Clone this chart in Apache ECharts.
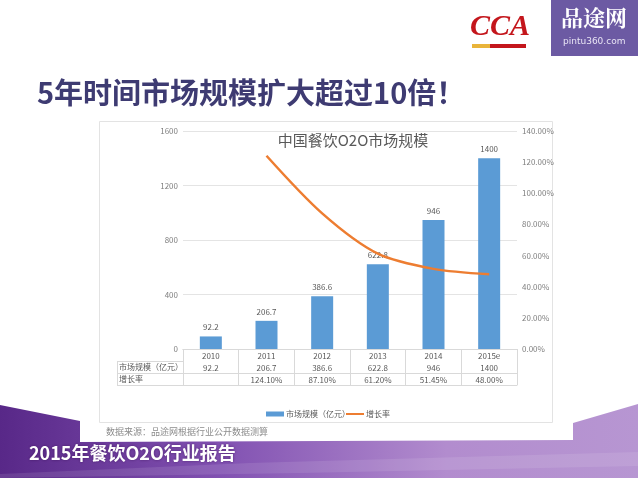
<!DOCTYPE html>
<html>
<head>
<meta charset="utf-8">
<script src="https://cdn.jsdelivr.net/npm/echarts@6/dist/echarts.min.js"></script>
<style>
html,body{margin:0;padding:0;background:#fff;}
#main{width:638px;height:478px;}
</style>
</head>
<body>
<div id="main"></div>
<script>
// ---- data ----
const categories = ['2010', '2011', '2012', '2013', '2014', '2015e'];
const marketSize = [92.2, 206.7, 386.6, 622.8, 946, 1400];
const growthRate = [null, 124.10, 87.10, 61.20, 51.45, 48.00];
const leftTicks = { min: 0, max: 1600, interval: 400 };
const rightTicks = { min: 0, max: 140, interval: 20 };
const seriesNames = ['市场规模（亿元）', '增长率'];
const rowHeaders = ['市场规模（亿元）', '增长率'];

const FONT = '"Noto Sans CJK SC", "Noto Sans", sans-serif';
const gridL = 183, gridR = 517, gridT = 131, gridB = 349;
const rowH = 12;
const lineCol = '#d9d9d9';
const txtCol = '#595959';

const chart = echarts.init(document.getElementById('main'));

function rowAxis(data, offset, showLabel) {
  return {
    type: 'category', gridIndex: 0, position: 'bottom', offset: offset,
    data: data,
    axisLine: { show: true, lineStyle: { color: lineCol, width: 1 } },
    axisTick: { show: false },
    axisLabel: { show: showLabel, interval: 0, color: txtCol, fontSize: 8, fontFamily: FONT, margin: 3 },
    splitLine: { show: false }
  };
}

const headerGraphics = [];
rowHeaders.forEach((h, i) => {
  headerGraphics.push({
    type: 'text', z: 6, silent: true, left: 119, top: gridB + rowH * (i + 1) + 2,
    style: { text: h, fill: txtCol, fontSize: 8, fontFamily: FONT }
  });
});
for (let i = 1; i <= rowHeaders.length + 1; i++) {
  const y = gridB + rowH * i + 0.5;
  headerGraphics.push({ type: 'line', z: 5, silent: true, shape: { x1: 117, y1: y, x2: gridL, y2: y }, style: { stroke: lineCol, lineWidth: 1 } });
}
headerGraphics.push({ type: 'line', z: 5, silent: true, shape: { x1: 117.5, y1: gridB + rowH, x2: 117.5, y2: gridB + rowH * 3 + 1 }, style: { stroke: lineCol, lineWidth: 1 } });

const legendText = { color: txtCol, fontSize: 8, fontFamily: FONT, padding: [0, 0, 0, -3] };

const option = {
  animation: false,
  textStyle: { fontFamily: FONT },
  title: {
    text: '中国餐饮O2O市场规模',
    left: 348, textAlign: 'center', top: 128,
    textStyle: { color: '#595959', fontSize: 15, fontWeight: 'normal', fontFamily: FONT }
  },
  grid: { left: gridL, right: 638 - gridR, top: gridT, bottom: 478 - gridB, containLabel: false },
  legend: [
    {
      data: [{ name: seriesNames[0], icon: 'rect' }],
      left: 261, top: 405, itemWidth: 18, itemHeight: 5, textStyle: legendText
    },
    {
      data: [{ name: seriesNames[1], icon: 'rect' }],
      left: 341, top: 405, itemWidth: 18, itemHeight: 2, textStyle: legendText
    }
  ],
  xAxis: [
    {
      type: 'category', data: categories, position: 'bottom',
      axisLine: { show: true, lineStyle: { color: lineCol } },
      axisTick: { show: true, interval: 0, length: 36, alignWithLabel: false, lineStyle: { color: lineCol } },
      axisLabel: { interval: 0, color: txtCol, fontSize: 8, fontFamily: FONT, margin: 3 }
    },
    rowAxis(marketSize.map(v => String(v)), rowH, true),
    rowAxis(growthRate.map(v => v == null ? '' : v.toFixed(2) + '%'), rowH * 2, true),
    rowAxis(categories.map(() => ''), rowH * 3, false)
  ],
  yAxis: [
    {
      type: 'value', min: leftTicks.min, max: leftTicks.max, interval: leftTicks.interval,
      axisLine: { show: false }, axisTick: { show: false },
      axisLabel: { color: '#7f7f7f', fontSize: 8, fontFamily: FONT, margin: 5, formatter: v => String(v) },
      splitLine: { lineStyle: { color: '#e4e4e4' } }
    },
    {
      type: 'value', min: rightTicks.min, max: rightTicks.max, interval: rightTicks.interval, position: 'right',
      axisLine: { show: false }, axisTick: { show: false },
      axisLabel: { color: '#7f7f7f', fontSize: 8, fontFamily: FONT, margin: 5, formatter: v => v.toFixed(2) + '%' },
      splitLine: { show: false }
    }
  ],
  series: [
    {
      name: seriesNames[0], type: 'bar', data: marketSize, barWidth: 22,
      itemStyle: { color: '#5b9bd5' },
      label: { show: true, position: 'top', distance: 5, color: txtCol, fontSize: 8, fontFamily: FONT }
    },
    {
      name: seriesNames[1], type: 'line', yAxisIndex: 1, data: growthRate,
      symbol: 'none', smooth: 0.3,
      lineStyle: { color: '#ed7d31', width: 2.5 }, itemStyle: { color: '#ed7d31' }
    }
  ],
  graphic: [
    // bottom purple band
    {
      type: 'polygon', z: -10, silent: true,
      shape: { points: [[0, 405], [80, 421], [80, 442], [573, 440], [573, 423], [638, 404], [638, 478], [0, 478]] },
      style: {
        fill: new echarts.graphic.LinearGradient(0, 0, 1, 0, [
          { offset: 0, color: '#582888' },
          { offset: 0.35, color: '#8252b2' },
          { offset: 0.7, color: '#b28cce' },
          { offset: 1, color: '#b796d2' }
        ])
      }
    },
    {
      type: 'polygon', z: -9, silent: true,
      shape: { points: [[0, 474], [250, 463], [638, 452], [638, 466], [300, 473], [0, 478]] },
      style: { fill: 'rgba(255,255,255,0.10)' }
    },
    // chart panel
    {
      type: 'rect', z: -5, silent: true,
      shape: { x: 99.5, y: 121.5, width: 453, height: 301 },
      style: { fill: '#ffffff', stroke: '#e3e3e3', lineWidth: 1 }
    },
    ...headerGraphics,
    // source note
    {
      type: 'text', z: 5, silent: true, left: 106, top: 427,
      style: { text: '数据来源：品途网根据行业公开数据测算', fill: '#8c8c8c', fontSize: 9, fontFamily: FONT }
    },
    // slide title
    {
      type: 'text', z: 5, silent: true, left: 37, top: 78,
      style: { text: '5年时间市场规模扩大超过10倍！', fill: '#3e3b72', fontSize: 29, fontWeight: 'bold', fontFamily: FONT }
    },
    // footer
    {
      type: 'text', z: 5, silent: true, left: 29, top: 444,
      style: { text: '2015年餐饮O2O行业报告', fill: '#ffffff', fontSize: 18, fontWeight: 'bold', fontFamily: FONT,
               textShadowColor: 'rgba(40,0,60,0.5)', textShadowBlur: 3 }
    },
    // logo box
    {
      type: 'rect', z: 5, silent: true,
      shape: { x: 551, y: 0, width: 87, height: 56 },
      style: { fill: '#6c5aa3' }
    },
    {
      type: 'text', z: 6, silent: true, left: 561, top: 7,
      style: { text: '品途网', fill: '#ffffff', fontSize: 22, fontFamily: '"Noto Serif CJK SC", "Noto Sans CJK SC", serif', fontWeight: 'bold' }
    },
    {
      type: 'text', z: 6, silent: true, left: 563, top: 37,
      style: { text: 'pintu360.com', fill: '#e8e4f4', fontSize: 9, fontFamily: '"DejaVu Sans", sans-serif' }
    },
    // CCA logo
    {
      type: 'text', z: 6, silent: true, left: 470, top: 12,
      style: { text: 'CCA', fill: '#c4161c', fontSize: 30, fontStyle: 'italic', fontWeight: 'bold', fontFamily: '"Liberation Serif", serif' }
    },
    { type: 'rect', z: 6, silent: true, shape: { x: 472, y: 44, width: 18, height: 4 }, style: { fill: '#e9b43a' } },
    { type: 'rect', z: 6, silent: true, shape: { x: 490, y: 44, width: 36, height: 4 }, style: { fill: '#c4161c' } }
  ]
};
chart.setOption(option);
</script>
</body>
</html>
